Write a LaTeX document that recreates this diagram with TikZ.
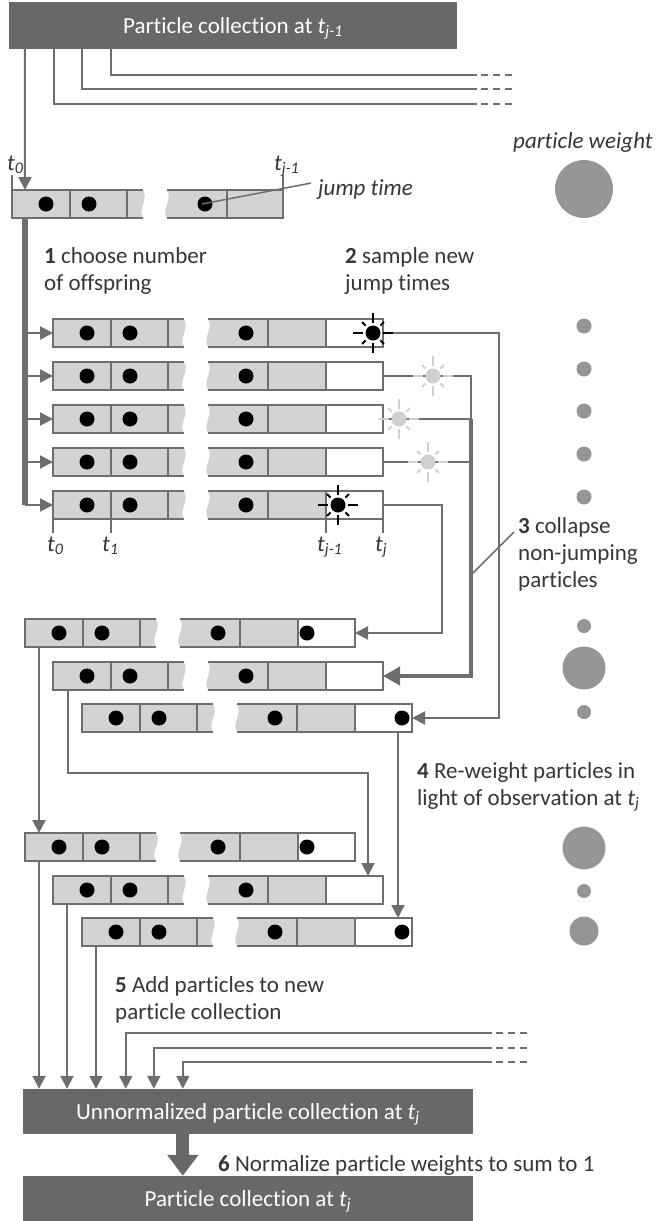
\documentclass[tikz,border=0pt]{standalone}
\usepackage{fontspec}
\setmainfont{Carlito}[Ligatures=NoCommon]
\usetikzlibrary{arrows.meta,calc}

\definecolor{boxgray}{HTML}{686868}
\definecolor{linegray}{HTML}{6E6E6E}
\definecolor{cellgray}{HTML}{D3D3D3}
\definecolor{wgray}{HTML}{959595}
\definecolor{txtgray}{HTML}{363636}
\definecolor{faintgray}{HTML}{D0D0D0}

\newcommand\boxfont{\fontsize{23}{27}\selectfont}
\newcommand\lblfont{\fontsize{23}{27}\selectfont}
\newcommand\tsb[1]{\textit{t}\textsubscript{\textit{#1}}}

\tikzset{
  ln/.style={draw=linegray, line width=2pt},
  arr/.style={ln, -{Triangle[length=13pt,width=13pt]}},
  thickarr/.style={draw=linegray, line width=4.5pt, -{Triangle[length=17pt,width=18pt]}},
  bigarr/.style={draw=boxgray, line width=13pt, -{Triangle[length=21pt,width=30pt]}},
  offpage/.style={ln, dash pattern=on 7pt off 5pt},
  darkbox/.style={fill=boxgray, text=white, inner sep=0, minimum width=450pt,
    minimum height=45pt, font=\boxfont, text height=15pt, text depth=0pt},
  rowframe/.style={inner sep=0, outer sep=0, minimum height=28pt},
  lbl/.style={text=txtgray, font=\lblfont, inner sep=0, anchor=base west},
  wt/.style={circle, fill=wgray, inner sep=0},
}

% a particle trajectory: name, west point, end of grey part, total length
\newcommand\prow[4]{%
  \node[rowframe, minimum width=#4pt, anchor=west] (#1) at (#2) {};
  \begin{scope}[shift={(#1.west)}]
    \fill[cellgray] (0,-14) -- (131,-14) .. controls (137,-4) and (125,5) .. (131,14) -- (0,14) -- cycle;
    \fill[cellgray] (155,-14) -- (#3,-14) -- (#3,14) -- (155,14) .. controls (149,5) and (161,-4) .. (155,-14) -- cycle;
    \draw[ln] (131,-14) -- (0,-14) -- (0,14) -- (131,14);
    \draw[ln] (57.5,-14) -- (57.5,14) (115,-14) -- (115,14);
    \draw[ln] (155,-14) -- (#4,-14) -- (#4,14) -- (155,14);
    \draw[ln] (215,-14) -- (215,14) (#3,-14) -- (#3,14);
    \foreach \px in {34,77,193} \fill (\px,0) circle[radius=7.5pt];
  \end{scope}}

% a newly sampled jump time: name, position, colour
\newcommand\flash[3]{%
  \node[circle, fill=#3, minimum size=15pt, inner sep=0] (#1) at (#2) {};
  \foreach \ang in {0,90,180,270}
    \draw[#3, line width=2pt] ($(#1)+(\ang:10pt)$) -- ($(#1)+(\ang:20pt)$);
  \foreach \ang in {45,135,225,315}
    \draw[#3, line width=2pt] ($(#1)+(\ang:10.5pt)$) -- ($(#1)+(\ang:15.5pt)$);}

\begin{document}
\begin{tikzpicture}[x=1pt, y=-1pt]
\useasboundingbox (0,0) rectangle (656,1221);

% ---------- collections ----------
\node[darkbox, minimum width=448pt, minimum height=47pt] (top) at (233,25.5)
  {Particle collection at \tsb{j-1}};
\node[darkbox] (un) at (248,1111.5) {Unnormalized particle collection at \tsb{j}};
\node[darkbox] (fin) at (248,1198.5) {Particle collection at \tsb{j}};

% ---------- lines leaving the previous collection ----------
\coordinate (o1) at (477,104);
\coordinate (o2) at (477,89);
\coordinate (o3) at (477,75);
\draw[ln] ($(top.south west)+(45,0)$) |- (o1);
\draw[ln] ($(top.south west)+(73,0)$) |- (o2);
\draw[ln] ($(top.south west)+(102,0)$) |- (o3);
\foreach \o in {o1,o2,o3} \draw[offpage] ($(\o)+(4,0)$) -- ++(32,0);

% ---------- the particle being propagated ----------
\prow{r0}{12,204}{271}{271}
\draw[arr] ($(top.south west)+(16,0)$) -- ($(r0.north west)+(13,0)$);
\draw[ln] (r0.north west) -- ++(0,-15);
\draw[ln] (r0.north east) -- ++(0,-15);
\node[lbl] (r0t0) at (7,170) {\tsb{0}};
\node[lbl] (r0t1) at (274,170) {\tsb{j-1}};
\node[lbl, font=\lblfont\itshape] (jt) at (318,195) {jump time};
\draw[draw=linegray, line width=1.5pt] ($(r0.west)+(190,0)$) -- ($(jt.west)+(-7,-6)$);

\node[lbl, font=\lblfont\itshape] (pw) at (513,148) {particle weight};
\node[wt, minimum size=58pt] (w0) at (584,189) {};

% ---------- step 1 and 2: offspring ----------
\node[lbl] (s1a) at (44,263) {\textbf{1} choose number};
\node[lbl] (s1b) at (44,290) {of offspring};
\node[lbl] (s2a) at (345,263) {\textbf{2} sample new};
\node[lbl] (s2b) at (345,290) {jump times};

\coordinate (bar) at ($(r0.south west)+(13,0)$);
\draw[draw=linegray, line width=6pt] (bar) -- (bar |- 0,505);

\prow{r1}{53,333}{273}{330}
\prow{r2}{53,376}{273}{330}
\prow{r3}{53,419}{273}{330}
\prow{r4}{53,462}{273}{330}
\prow{r5}{53,505}{273}{330}
\foreach \rw in {r1,r2,r3,r4,r5} \draw[arr] (\rw.west -| bar) -- (\rw.west);

\draw[ln] (r5.south west) -- ++(0,14);
\draw[ln] ($(r5.south west)+(58,0)$) -- ++(0,14);
\draw[ln] ($(r5.south west)+(273,0)$) -- ++(0,14);
\draw[ln] (r5.south east) -- ++(0,14);
\node[lbl] (l0) at (47,551) {\tsb{0}};
\node[lbl] (l1) at (102,551) {\tsb{1}};
\node[lbl] (l2) at (317,551) {\tsb{j-1}};
\node[lbl] (l3) at (375,551) {\tsb{j}};

\foreach \yy [count=\k] in {326,369,411,454,497}
  \node[wt, minimum size=15pt] (w1\k) at (584,\yy) {};

% ---------- step 3: collapse ----------
\prow{a1}{25,633}{273}{330}
\prow{a2}{53,676}{273}{330}
\prow{a3}{82,718}{273}{330}
\fill ($(a1.west)+(282,0)$) circle[radius=7.5pt];
\fill ($(a3.west)+(320,0)$) circle[radius=7.5pt];

\coordinate (ct) at (471,419);
\draw[arr] (r1.east) -- ++(116,0) |- (a3.east);
\draw[ln] (r2.east) -| (ct);
\draw[ln] (r3.east) -- (ct);
\draw[ln] (r4.east) -- (r4.east -| ct);
\draw[thickarr] (ct) |- (a2.east);
\draw[arr] (r5.east) -- ++(59,0) |- (a1.east);

\coordinate (c3) at (514,532);
\draw[draw=linegray, line width=1.5pt] (ct |- 0,575) -- (c3);
\node[lbl] (s3a) at (518,533) {\textbf{3} collapse};
\node[lbl] (s3b) at (518,560) {non-jumping};
\node[lbl] (s3c) at (518,587) {particles};

\node[wt, minimum size=14pt] (w21) at (584,626) {};
\node[wt, minimum size=43pt] (w22) at (584,668) {};
\node[wt, minimum size=14pt] (w23) at (584,712) {};

% ---------- step 4: re-weight ----------
\prow{b1}{25,847}{273}{330}
\prow{b2}{53,890}{273}{330}
\prow{b3}{82,932}{273}{330}
\fill ($(b1.west)+(282,0)$) circle[radius=7.5pt];
\fill ($(b3.west)+(320,0)$) circle[radius=7.5pt];

\draw[arr] ($(a1.south west)+(14,0)$) -- ($(b1.north west)+(14,0)$);
\draw[arr] ($(a2.south west)+(15,0)$) -- ++(0,83) -| ($(b2.north west)+(315,0)$);
\draw[arr] ($(a3.south west)+(316,0)$) -- ($(b3.north west)+(316,0)$);

\node[lbl] (s4a) at (417,778) {\textbf{4} Re-weight particles in};
\node[lbl] (s4b) at (417,805) {light of observation at \tsb{j}};

\node[wt, minimum size=43pt] (w31) at (584,848) {};
\node[wt, minimum size=14pt] (w32) at (584,891) {};
\node[wt, minimum size=29pt] (w33) at (584,931) {};

% ---------- step 5: gather ----------
\coordinate (b1o) at ($(b1.south west)+(14,0)$);
\coordinate (b2o) at ($(b2.south west)+(14,0)$);
\coordinate (b3o) at ($(b3.south west)+(14,0)$);
\foreach \bo in {b1o,b2o,b3o} \draw[arr] (\bo) -- (\bo |- un.north);

\coordinate (i1) at (492,1033);
\coordinate (i2) at (492,1048);
\coordinate (i3) at (492,1062);
\draw[arr] (i1) -| ($(un.north west)+(103,0)$);
\draw[arr] (i2) -| ($(un.north west)+(131,0)$);
\draw[arr] (i3) -| ($(un.north west)+(160,0)$);
\foreach \ii in {i1,i2,i3} \draw[offpage] ($(\ii)+(4,0)$) -- ++(32,0);

\node[lbl] (s5a) at (115,992) {\textbf{5} Add particles to new};
\node[lbl] (s5b) at (115,1019) {particle collection};

% ---------- step 6: normalize ----------
\draw[bigarr] ($(un.south west)+(160,0)$) -- ($(fin.north west)+(160,0)$);
\node[lbl] (s6) at (218,1171) {\textbf{6} Normalize particle weights to sum to 1};

% ---------- sampled jump times ----------
\flash{f1}{$(r1.west)+(320,0)$}{black}
\flash{f2}{$(r2.west)+(380,0)$}{faintgray}
\flash{f3}{$(r3.west)+(346,0)$}{faintgray}
\flash{f4}{$(r4.west)+(375,0)$}{faintgray}
\flash{f5}{$(r5.west)+(285,0)$}{black}
\end{tikzpicture}
\end{document}
